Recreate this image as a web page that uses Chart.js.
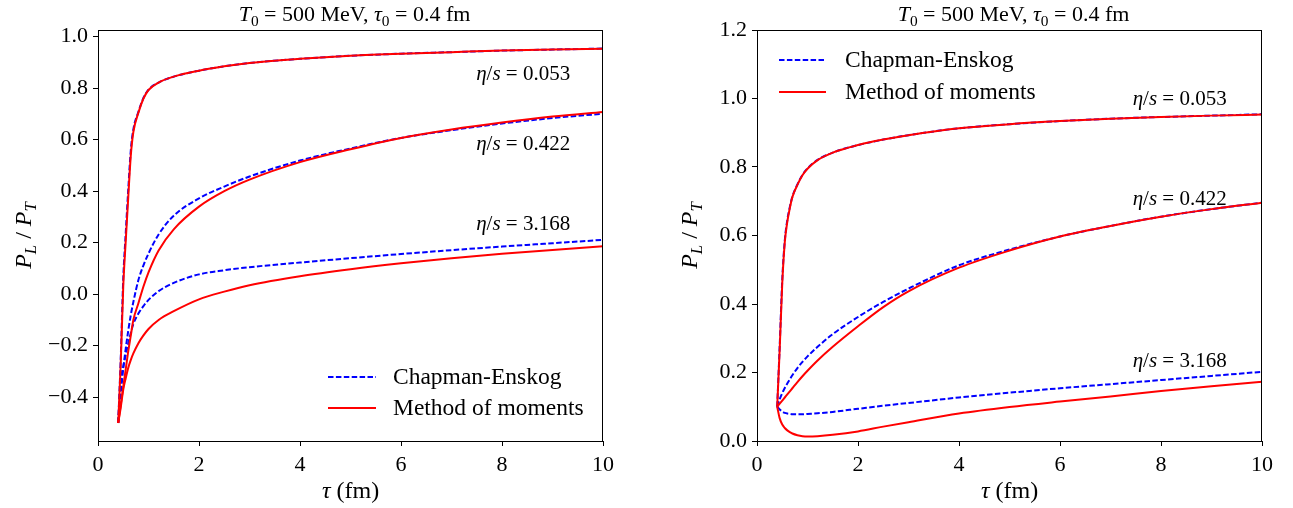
<!DOCTYPE html>
<html>
<head>
<meta charset="utf-8">
<script src="https://cdn.jsdelivr.net/npm/chart.js@4.4.0/dist/chart.umd.min.js"></script>
<style>
  html, body { margin: 0; padding: 0; background: #fff; }
  #wrap { position: relative; width: 1293px; height: 508px; }
  #wrap canvas { position: absolute; top: 0; }
</style>
</head>
<body>
<div id="wrap">
  <canvas id="left" width="646" height="508" style="left:0"></canvas>
  <canvas id="right" width="647" height="508" style="left:646px"></canvas>
</div>
<script>
// --- DONNÉES ---

const tau = [0.4, 0.45, 0.5, 0.55, 0.6, 0.65, 0.7, 0.8, 0.9, 1.0, 1.2, 1.5, 2, 2.5, 3, 4, 5, 6, 7, 8, 9, 10];

const xTicks = [0, 2, 4, 6, 8, 10];
const yTicksLeft = [-0.4, -0.2, 0.0, 0.2, 0.4, 0.6, 0.8, 1.0];
const yTicksRight = [0.0, 0.2, 0.4, 0.6, 0.8, 1.0, 1.2];
const etaValues = ['0.053', '0.422', '3.168'];
const seriesNames = ['Chapman-Enskog', 'Method of moments'];

// Panneau gauche : P_L/P_T(tau0) = -0.5
const leftCE053 = [-0.50, -0.25, 0.06, 0.24, 0.41, 0.56, 0.64, 0.708, 0.762, 0.794, 0.822, 0.845, 0.868, 0.885, 0.898, 0.914, 0.926, 0.934, 0.940, 0.946, 0.950, 0.954];
const leftMM053 = [-0.50, -0.27, 0.03, 0.21, 0.38, 0.54, 0.63, 0.705, 0.760, 0.793, 0.822, 0.845, 0.868, 0.885, 0.898, 0.914, 0.926, 0.934, 0.940, 0.946, 0.950, 0.953];
const leftCE422 = [-0.50, -0.39, -0.29, -0.21, -0.14, -0.08, -0.03, 0.055, 0.112, 0.158, 0.232, 0.305, 0.372, 0.418, 0.457, 0.519, 0.566, 0.607, 0.637, 0.663, 0.684, 0.701];
const leftMM422 = [-0.50, -0.43, -0.36, -0.29, -0.22, -0.16, -0.10, -0.035, 0.03, 0.085, 0.17, 0.252, 0.34, 0.40, 0.445, 0.513, 0.563, 0.607, 0.640, 0.667, 0.690, 0.708];
const leftCE3168 = [-0.50, -0.34, -0.28, -0.235, -0.19, -0.15, -0.115, -0.075, -0.046, -0.022, 0.012, 0.044, 0.077, 0.093, 0.105, 0.123, 0.140, 0.156, 0.171, 0.185, 0.198, 0.211];
const leftMM3168 = [-0.50, -0.44, -0.37, -0.325, -0.285, -0.255, -0.23, -0.19, -0.16, -0.135, -0.10, -0.066, -0.020, 0.010, 0.035, 0.070, 0.097, 0.120, 0.140, 0.157, 0.172, 0.186];

// Panneau droit : P_L/P_T(tau0) = 0.1
const rightCE053 = [0.10, 0.28, 0.47, 0.585, 0.645, 0.683, 0.713, 0.749, 0.777, 0.796, 0.821, 0.842, 0.864, 0.880, 0.893, 0.913, 0.925, 0.934, 0.941, 0.946, 0.950, 0.954];
const rightMM053 = [0.10, 0.27, 0.46, 0.580, 0.640, 0.680, 0.712, 0.748, 0.776, 0.795, 0.820, 0.842, 0.864, 0.880, 0.893, 0.913, 0.925, 0.934, 0.941, 0.946, 0.950, 0.953];
const rightCE422 = [0.10, 0.122, 0.14, 0.155, 0.168, 0.18, 0.192, 0.213, 0.231, 0.247, 0.275, 0.312, 0.362, 0.406, 0.445, 0.513, 0.559, 0.597, 0.628, 0.655, 0.677, 0.696];
const rightMM422 = [0.10, 0.109, 0.118, 0.127, 0.136, 0.145, 0.154, 0.172, 0.189, 0.205, 0.235, 0.275, 0.335, 0.391, 0.437, 0.506, 0.556, 0.597, 0.628, 0.655, 0.677, 0.696];
const rightCE3168 = [0.10, 0.092, 0.086, 0.082, 0.080, 0.079, 0.078, 0.078, 0.078, 0.079, 0.081, 0.085, 0.094, 0.103, 0.111, 0.127, 0.141, 0.154, 0.166, 0.178, 0.190, 0.202];
const rightMM3168 = [0.10, 0.066, 0.048, 0.038, 0.031, 0.026, 0.022, 0.017, 0.014, 0.013, 0.014, 0.018, 0.028, 0.042, 0.055, 0.080, 0.099, 0.115, 0.130, 0.146, 0.160, 0.173];

// --- UTILITAIRES ---

const SERIF = '"Liberation Serif", "Times New Roman", serif';
const BLUE = '#0000ff';
const RED = '#ff0000';
const DASH = [5.5, 2.4];

const pts = (vals) => tau.map((t, i) => ({ x: t, y: vals[i] }));

const segFont = (s, size) => (s.it ? 'italic ' : '') + (s.sub ? size * 0.7 : size) + 'px ' + SERIF;

/** Dessine un texte à styles mixtes (italique, indice), y = ligne de base. */
function drawRich(ctx, segs, x, y, size, align) {
  ctx.save();
  ctx.fillStyle = '#000';
  ctx.textAlign = 'left';
  ctx.textBaseline = 'alphabetic';
  let w = 0;
  segs.forEach(s => { ctx.font = segFont(s, size); w += ctx.measureText(s.t).width; });
  let cx = align === 'right' ? x - w : align === 'center' ? x - w / 2 : x;
  segs.forEach(s => {
    ctx.font = segFont(s, size);
    ctx.fillText(s.t, cx, y + (s.sub ? size * 0.22 : 0));
    cx += ctx.measureText(s.t).width;
  });
  ctx.restore();
}

const titleSegs = [
  { t: 'T', it: true }, { t: '0', sub: true }, { t: ' = 500 MeV, ' },
  { t: 'τ', it: true }, { t: '0', sub: true }, { t: ' = 0.4 fm' }
];
const yLabelSegs = [
  { t: 'P', it: true }, { t: 'L', it: true, sub: true }, { t: ' / ' },
  { t: 'P', it: true }, { t: 'T', it: true, sub: true }
];
const xLabelSegs = [{ t: 'τ', it: true }, { t: ' (fm)' }];
const etaSegs = (v) => [{ t: 'η', it: true }, { t: '/' }, { t: 's', it: true }, { t: ' = ' + v }];

// Cadre, titres, annotations et légende
const decorPlugin = {
  id: 'decor',
  afterDraw(chart, args, o) {
    const { ctx, chartArea: a, scales } = chart;
    ctx.save();
    ctx.strokeStyle = '#000';
    ctx.lineWidth = 1;
    ctx.strokeRect(Math.round(a.left) + 0.5, Math.round(a.top) + 0.5,
                   Math.round(a.right - a.left) - 1, Math.round(a.bottom - a.top));
    ctx.restore();

    const midX = (a.left + a.right) / 2;
    drawRich(ctx, titleSegs, midX + 4, 21, 22, 'center');
    drawRich(ctx, xLabelSegs, midX, 498, 24, 'center');

    ctx.save();
    ctx.translate(o.yLabelX, (a.top + a.bottom) / 2);
    ctx.rotate(-Math.PI / 2);
    drawRich(ctx, yLabelSegs, 0, 0, 24, 'center');
    ctx.restore();

    o.etaPos.forEach((p, i) => {
      const px = scales.x.getPixelForValue(p[0]);
      const py = scales.y.getPixelForValue(p[1]);
      drawRich(ctx, etaSegs(etaValues[i]), px, py + 7, 21, 'right');
    });

    // légende
    const lg = o.legend;
    ctx.save();
    ctx.lineWidth = 2;
    ctx.font = '23.5px ' + SERIF;
    ctx.fillStyle = '#000';
    ctx.textBaseline = 'middle';
    [[BLUE, DASH], [RED, []]].forEach((st, i) => {
      const y = a.top + lg.rows[i];
      ctx.strokeStyle = st[0];
      ctx.setLineDash(st[1]);
      ctx.beginPath();
      ctx.moveTo(a.left + lg.x0, y);
      ctx.lineTo(a.left + lg.x1, y);
      ctx.stroke();
      ctx.fillText(seriesNames[i], a.left + lg.tx, y + 1);
    });
    ctx.restore();
  }
};

function makeDatasets(ce, mm) {
  const ds = [];
  mm.forEach(v => ds.push({ data: pts(v), borderColor: RED, borderWidth: 2, order: 0 }));
  ce.forEach(v => ds.push({ data: pts(v), borderColor: BLUE, borderWidth: 2, borderDash: DASH, order: 1 }));
  return ds;
}

function makeChart(id, p) {
  return new Chart(document.getElementById(id), {
    type: 'line',
    data: { datasets: makeDatasets(p.ce, p.mm) },
    options: {
      responsive: false,
      animation: false,
      events: [],
      layout: { padding: { left: 0, top: 30, right: p.padRight, bottom: 0 } },
      elements: { point: { radius: 0 }, line: { cubicInterpolationMode: 'monotone', fill: false } },
      scales: {
        x: {
          type: 'linear', min: 0, max: 10,
          afterBuildTicks: s => { s.ticks = xTicks.map(v => ({ value: v })); },
          afterFit: s => { s.height = 67; },
          grid: { drawOnChartArea: false, tickLength: 5, color: '#000' },
          border: { display: false },
          ticks: { font: { family: SERIF, size: 22 }, color: '#000', padding: 6 }
        },
        y: {
          type: 'linear', min: p.yMin, max: p.yMax,
          afterBuildTicks: s => { s.ticks = p.yTicks.map(v => ({ value: v })); },
          afterFit: s => { s.width = p.yWidth; },
          grid: { drawOnChartArea: false, tickLength: 5, color: '#000' },
          border: { display: false },
          ticks: {
            font: { family: SERIF, size: 22 }, color: '#000', padding: 5,
            callback: v => (v < -1e-9 ? '\u2212' : '') + Math.abs(v).toFixed(1)
          }
        }
      },
      plugins: {
        legend: { display: false },
        tooltip: { enabled: false },
        decor: { yLabelX: p.yLabelX, etaPos: p.etaPos, legend: p.legend }
      }
    },
    plugins: [decorPlugin]
  });
}

makeChart('left', {
  ce: [leftCE053, leftCE422, leftCE3168],
  mm: [leftMM053, leftMM422, leftMM3168],
  yMin: -0.57, yMax: 1.026, yTicks: yTicksLeft,
  yWidth: 98, padRight: 43, yLabelX: 31,
  etaPos: [[9.35, 0.859], [9.35, 0.587], [9.35, 0.277]],
  legend: { x0: 230, x1: 278, tx: 295, rows: [347, 378] }
});

makeChart('right', {
  ce: [rightCE053, rightCE422, rightCE3168],
  mm: [rightMM053, rightMM422, rightMM3168],
  yMin: 0, yMax: 1.2, yTicks: yTicksRight,
  yWidth: 111, padRight: 31, yLabelX: 51,
  etaPos: [[9.3, 1.001], [9.3, 0.709], [9.3, 0.236]],
  legend: { x0: 22, x1: 69, tx: 88, rows: [30, 62] }
});
</script>
</body>
</html>
